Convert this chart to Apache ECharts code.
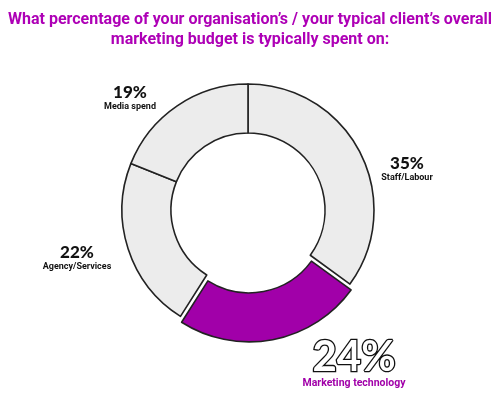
<!DOCTYPE html>
<html>
<head>
<meta charset="utf-8">
<script src="https://cdn.jsdelivr.net/npm/echarts@6/dist/echarts.min.js"></script>
<style>
html,body{margin:0;padding:0;background:#fff;}
#chart{width:500px;height:398px;}
</style>
</head>
<body>
<div id="chart"></div>
<script>
var titleLines = ["What percentage of your organisation\u2019s / your typical client\u2019s overall", "marketing budget is typically spent on:"];
var categories = ["Staff/Labour", "Marketing technology", "Agency/Services", "Media spend"];
var values = [35, 24, 22, 19];
var highlighted = [false, true, false, false];

var GRAY = '#ececec', PURPLE = '#a100a9';
var labelPos = [[407, 170], [354, 364], [77, 259], [130, 99]];

var labelGraphics = categories.map(function (c, i) {
  var big = highlighted[i];
  return {
    type: 'text',
    x: labelPos[i][0], y: labelPos[i][1],
    style: {
      text: big ? '{big|' + values[i] + '%}\n{hn|' + c + '}' : '{p|' + values[i] + '%}\n{n|' + c + '}',
      align: 'center', verticalAlign: 'middle',
      rich: {
        p: {fontFamily: 'Lato', fontWeight: 900, fontSize: 17, fill: '#111', align: 'center', lineHeight: 16},
        n: {fontFamily: 'Roboto', fontWeight: 'bold', fontSize: 9, fill: '#111', align: 'center', lineHeight: 12},
        big: {fontFamily: 'Lato', fontWeight: 'bold', fontSize: 42, fill: '#fff', stroke: '#111', lineWidth: 2.6, align: 'center', lineHeight: 38},
        hn: {fontFamily: 'Roboto', fontWeight: 'bold', fontSize: 10.5, fill: PURPLE, align: 'center', lineHeight: 14}
      }
    }
  };
});

var chart = echarts.init(document.getElementById('chart'));
chart.setOption({
  animation: false,
  backgroundColor: '#ffffff',
  title: {
    text: titleLines.join('\n'),
    left: 'center',
    top: 5,
    textStyle: {
      fontFamily: 'Roboto', fontWeight: 'bold', fontSize: 16, color: '#ae00b6', lineHeight: 20
    }
  },
  graphic: labelGraphics,
  series: [{
    type: 'pie',
    center: [248, 210],
    radius: [77, 126],
    startAngle: 90,
    clockwise: true,
    selectedMode: 'single',
    selectedOffset: 6,
    emphasis: {disabled: true},
    itemStyle: {borderColor: '#222', borderWidth: 1.6},
    label: {show: false},
    labelLine: {show: false},
    data: categories.map(function (c, i) {
      return {
        name: c, value: values[i], selected: highlighted[i],
        itemStyle: {color: highlighted[i] ? PURPLE : GRAY}
      };
    })
  }]
});
</script>
</body>
</html>
